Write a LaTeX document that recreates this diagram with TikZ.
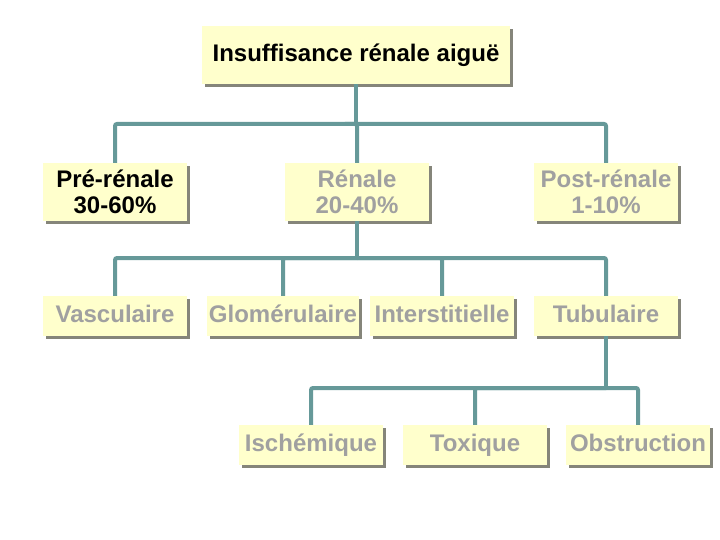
\documentclass[tikz,border=0pt]{standalone}
\usepackage{fontspec}
\setmainfont{Liberation Sans}
\usetikzlibrary{shadows}

\definecolor{boxfill}{HTML}{FFFFCC}
\definecolor{boxshade}{HTML}{85857A}
\definecolor{linkcol}{HTML}{669999}
\definecolor{dimtext}{HTML}{A0A0A0}

\begin{document}
\begin{tikzpicture}[x=1pt,y=-1pt,
  box/.style={fill=boxfill, inner sep=0pt, align=center,
    font=\fontsize{24}{26}\selectfont\bfseries,
    general shadow={fill=boxshade, shadow xshift=3pt, shadow yshift=-3pt}},
  tall/.style={box, minimum width=144pt, minimum height=58pt},
  flat/.style={box, minimum width=144pt, minimum height=40pt,
    text height=17.5pt, text depth=5pt},
  dim/.style={text=dimtext},
  link/.style={draw=linkcol, line width=4pt, rounded corners=2pt}]
\useasboundingbox (0,0) rectangle (720,540);

\node[box, minimum width=308pt, minimum height=58pt] (root) at (356,55) {Insuffisance rénale aiguë};

\node[tall] (pre) at (115,192) {Pré-rénale\\30-60\%};
\node[tall, dim] (ren) at (357,192) {Rénale\\20-40\%};
\node[tall, dim] (post) at (606,192) {Post-rénale\\1-10\%};

\node[flat, dim] (vasc) at (115,316) {Vasculaire};
\node[flat, dim, minimum width=152pt] (glom) at (283,316) {Glomérulaire};
\node[flat, dim] (inter) at (442,316) {Interstitielle};
\node[flat, dim] (tubu) at (606,316) {Tubulaire};

\node[flat, dim] (isch) at (311,445) {Ischémique};
\node[flat, dim] (tox) at (475,445) {Toxique};
\node[flat, dim] (obst) at (638,445) {Obstruction};

\coordinate (bus1) at (356,124);
\coordinate (bus2) at (357,258);
\coordinate (bus3) at (606,388);

\path[link] (root) -- (bus1);
\path[link] (bus1) -| (pre);
\path[link] (bus1) -| (ren);
\path[link] (bus1) -| (post);

\path[link] (ren) -- (bus2);
\path[link] (bus2) -| (vasc);
\path[link] (bus2) -| (glom);
\path[link] (bus2) -| (inter);
\path[link] (bus2) -| (tubu);

\path[link] (tubu) -- (bus3);
\path[link] (bus3) -| (isch);
\path[link] (bus3) -| (tox);
\path[link] (bus3) -| (obst);
\end{tikzpicture}
\end{document}
